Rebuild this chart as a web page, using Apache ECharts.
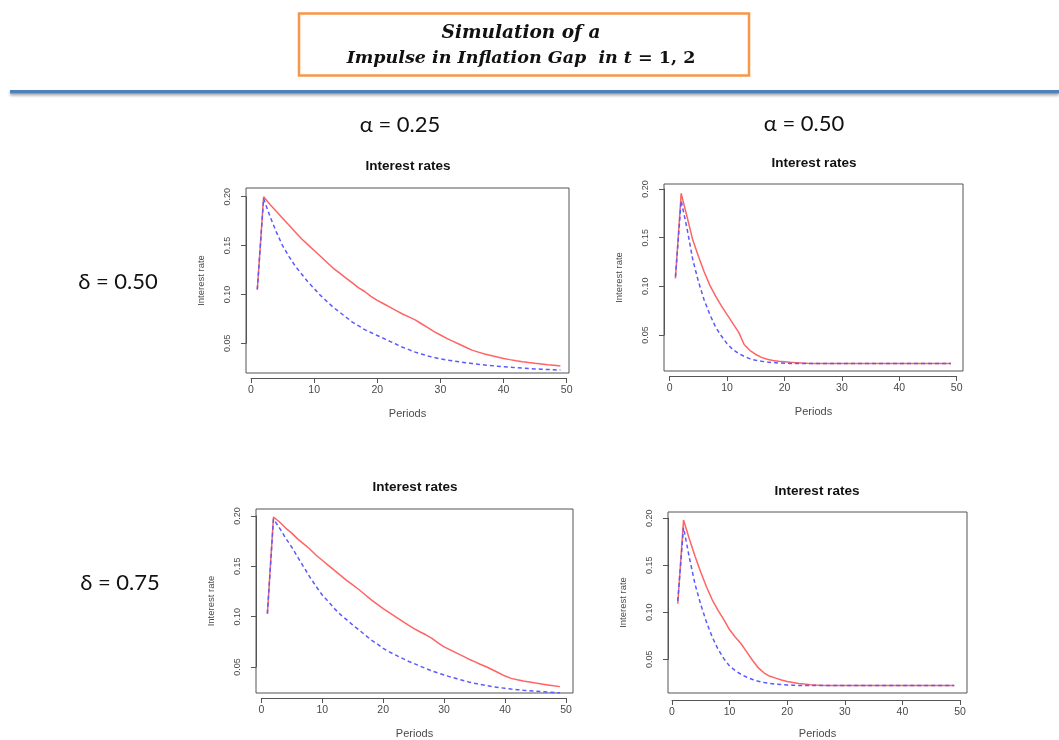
<!DOCTYPE html>
<html>
<head>
<meta charset="utf-8">
<title>Simulation of a Impulse in Inflation Gap</title>
<script src="https://cdn.jsdelivr.net/npm/echarts@6.0.0/dist/echarts.min.js"></script>
<style>
  html, body { margin: 0; padding: 0; background: #fff; }
  #main { width: 1059px; height: 740px; }
</style>
</head>
<body>
<div id="main"></div>
<script>
// periods on the x axis
var periods = [1, 2, 3, 4, 5, 6, 7, 8, 9, 10, 11, 12, 13, 14, 15, 16, 17, 18, 19, 20,
  21, 22, 23, 24, 25, 26, 27, 28, 29, 30, 31, 32, 33, 34, 35, 36, 37, 38, 39, 40,
  41, 42, 43, 44, 45, 46, 47, 48, 49];

var xTicks = [0, 10, 20, 30, 40, 50];
var yTicks = [0.05, 0.10, 0.15, 0.20];

// alpha = 0.25, delta = 0.50
var rateA25D50Solid = [.105, .200, .192, .185, .178, .171, .164, .157, .151, .145,
  .139, .133, .127, .122, .117, .112, .107, .103, .098, .094,
  .0905, .087, .0835, .080, .077, .074, .070, .066, .062, .0585,
  .055, .052, .049, .046, .043, .041, .039, .0375, .036, .0345,
  .0333, .0322, .0312, .0303, .0295, .0288, .0281, .0275, .0268];
var rateA25D50Dash = [.105, .198, .180, .164, .150, .139, .129, .121, .113, .106,
  .099, .093, .087, .082, .077, .072, .068, .064, .061, .058,
  .055, .052, .049, .046, .0435, .041, .039, .037, .0355, .034,
  .0330, .0320, .0311, .0302, .0294, .0286, .0279, .0272, .0266, .0260,
  .0255, .0250, .0246, .0242, .0238, .0235, .0232, .0229, .0226];

// alpha = 0.50, delta = 0.50
var rateA50D50Solid = [.108, .1955, .172, .148, .131, .115, .101, .090, .080, .071,
  .062, .053, .040, .034, .030, .027, .025, .0238, .0230, .0225,
  .0220, .0216, .0212, .0209, .0207, .0207, .0207, .0207, .0207, .0207,
  .0207, .0207, .0207, .0207, .0207, .0207, .0207, .0207, .0207, .0207,
  .0207, .0207, .0207, .0207, .0207, .0207, .0207, .0207, .0207];
var rateA50D50Dash = [.110, .188, .160, .128, .105, .086, .071, .058, .049, .041,
  .035, .031, .028, .0255, .024, .023, .0222, .0217, .0213, .0210,
  .0208, .0207, .0207, .0207, .0207, .0207, .0207, .0207, .0207, .0207,
  .0207, .0207, .0207, .0207, .0207, .0207, .0207, .0207, .0207, .0207,
  .0207, .0207, .0207, .0207, .0207, .0207, .0207, .0207, .0207];

// alpha = 0.25, delta = 0.75
var rateA25D75Solid = [.103, .199, .194, .188, .183, .177, .172, .167, .161, .156,
  .151, .146, .141, .136, .1315, .127, .122, .117, .1125, .108,
  .104, .100, .096, .092, .0884, .085, .082, .0785, .074, .070,
  .067, .064, .061, .058, .0553, .0525, .050, .047, .044, .041,
  .0387, .0373, .036, .035, .034, .0331, .0322, .0313, .0305];
var rateA25D75Dash = [.103, .197, .188, .178, .169, .159, .149, .139, .130, .1215,
  .115, .108, .102, .097, .0917, .087, .082, .077, .073, .0685,
  .065, .062, .059, .056, .0536, .051, .0485, .046, .044, .042,
  .0402, .0385, .0368, .0352, .0338, .0326, .0315, .0305, .0296, .0288,
  .0281, .0275, .0269, .0264, .0259, .0255, .0251, .0247, .0243];

// alpha = 0.50, delta = 0.75
var rateA50D75Solid = [.108, .198, .178, .159, .142, .126, .112, .101, .091, .080,
  .072, .065, .056, .047, .039, .0335, .030, .028, .026, .0245,
  .0233, .0223, .0216, .0210, .0206, .0203, .0202, .0201, .0200, .0200,
  .0200, .0200, .0200, .0200, .0200, .0200, .0200, .0200, .0200, .0200,
  .0200, .0200, .0200, .0200, .0200, .0200, .0200, .0200, .0200];
var rateA50D75Dash = [.111, .190, .158, .129, .107, .088, .072, .059, .049, .041,
  .036, .032, .029, .0265, .0247, .0233, .0223, .0216, .0211, .0207,
  .0204, .0202, .0201, .0200, .0200, .0200, .0200, .0200, .0200, .0200,
  .0200, .0200, .0200, .0200, .0200, .0200, .0200, .0200, .0200, .0200,
  .0200, .0200, .0200, .0200, .0200, .0200, .0200, .0200, .0200];

// pixel layout of each R panel: plot box and where ticks 0/50 and 0.20/0.05 sit
var panels = [
  { solid: rateA25D50Solid, dash: rateA25D50Dash, box: [246, 188, 569, 373], x0: 251, x50: 566.7, y20: 196.7, y05: 343.3, title: [408, 166] },
  { solid: rateA50D50Solid, dash: rateA50D50Dash, box: [664, 184, 963, 371], x0: 669.7, x50: 956.7, y20: 189, y05: 335, title: [814, 163] },
  { solid: rateA25D75Solid, dash: rateA25D75Dash, box: [256, 509, 573, 693], x0: 261.3, x50: 566, y20: 516, y05: 667, title: [415, 487] },
  { solid: rateA50D75Solid, dash: rateA50D75Dash, box: [668, 512, 967, 695], x0: 672, x50: 960, y20: 518.3, y05: 659.3, title: [817, 491] }
];

var axisColor = '#555';
var labelColor = '#4a4a4a';
var fontR = 'Liberation Sans, Arial, sans-serif';

function pairs(vals) {
  var out = [];
  for (var i = 0; i < periods.length; i++) out.push([periods[i], vals[i]]);
  return out;
}

var grids = [], xAxes = [], yAxes = [], series = [], graphics = [];

panels.forEach(function (p, i) {
  var L = p.box[0], T = p.box[1], R = p.box[2], B = p.box[3];
  var xPer = (p.x50 - p.x0) / 50;
  var yPer = (p.y05 - p.y20) / 0.15;
  var gA = i * 2, gB = i * 2 + 1;

  // plot box with the data
  grids.push({ left: L, top: T, width: R - L, height: B - T, show: true,
    borderColor: axisColor, borderWidth: 1, backgroundColor: 'transparent' });
  // R style axes that only span first..last tick
  grids.push({ left: p.x0, top: p.y20, width: p.x50 - p.x0, height: p.y05 - p.y20, show: false });

  xAxes.push({
    gridIndex: gA, type: 'value',
    min: (L - p.x0) / xPer, max: (R - p.x0) / xPer,
    axisLine: { show: false }, axisTick: { show: false }, axisLabel: { show: false }, splitLine: { show: false },
    name: 'Periods', nameLocation: 'middle', nameGap: 35,
    nameTextStyle: { fontFamily: fontR, fontSize: 11, color: labelColor }
  });
  xAxes.push({
    gridIndex: gB, type: 'value', position: 'bottom',
    min: xTicks[0], max: xTicks[xTicks.length - 1], interval: 10,
    offset: B + 5 - p.y05,
    axisLine: { show: true, onZero: false, lineStyle: { color: axisColor, width: 1 } },
    axisTick: { show: true, length: 5, lineStyle: { color: axisColor } },
    axisLabel: { margin: 7, fontFamily: fontR, fontSize: 10.5, color: labelColor },
    splitLine: { show: false }
  });

  yAxes.push({
    gridIndex: gA, type: 'value',
    min: 0.05 - (B - p.y05) / yPer, max: 0.20 + (p.y20 - T) / yPer,
    axisLine: { show: false }, axisTick: { show: false }, axisLabel: { show: false }, splitLine: { show: false },
    name: 'Interest rate', nameLocation: 'middle', nameGap: 40,
    nameTextStyle: { fontFamily: fontR, fontSize: 9.5, color: labelColor }
  });
  yAxes.push({
    gridIndex: gB, type: 'value', position: 'left',
    min: yTicks[0], max: yTicks[yTicks.length - 1], interval: 0.05,
    offset: p.x0 - L,
    axisLine: { show: true, onZero: false, lineStyle: { color: axisColor, width: 1 } },
    axisTick: { show: true, length: 5, lineStyle: { color: axisColor } },
    axisLabel: { margin: 14, rotate: 90, fontFamily: fontR, fontSize: 9, color: labelColor,
      formatter: function (v) { return v.toFixed(2); } },
    splitLine: { show: false }
  });

  series.push({
    type: 'line', xAxisIndex: gA, yAxisIndex: gA, data: pairs(p.solid),
    showSymbol: false, lineStyle: { color: '#ff6464', width: 1.5 }, z: 2
  });
  series.push({
    type: 'line', xAxisIndex: gA, yAxisIndex: gA, data: pairs(p.dash),
    showSymbol: false, lineStyle: { color: '#5a5aff', width: 1.5, type: [4, 3] }, z: 3
  });

  graphics.push({
    type: 'text', x: p.title[0], y: p.title[1],
    style: { text: 'Interest rates', fontFamily: fontR, fontWeight: 'bold', fontSize: 13.5,
      fill: '#111', align: 'center', verticalAlign: 'middle' }
  });
});

// header, rule line and row/column labels
var labelFont = 'Lato, "Open Sans", sans-serif';
graphics.push(
  { type: 'rect', shape: { x: 299, y: 13.5, width: 450, height: 62 },
    style: { fill: '#fff', stroke: '#f79646', lineWidth: 2.5 } },
  { type: 'text', x: 521, y: 33,
    style: { text: 'Simulation of a', fontFamily: 'DejaVu Serif', fontStyle: 'italic', fontWeight: 'bold',
      fontSize: 18.5, fill: '#111', align: 'center', verticalAlign: 'middle' } },
  { type: 'text', x: 521, y: 58,
    style: { text: '{i|Impulse in Inflation Gap  in t }{u|= 1, 2}', align: 'center', verticalAlign: 'middle',
      rich: {
        i: { fontFamily: 'DejaVu Serif', fontStyle: 'italic', fontWeight: 'bold', fontSize: 17.5, fill: '#111' },
        u: { fontFamily: 'DejaVu Serif', fontWeight: 'bold', fontSize: 17.5, fill: '#111' }
      } } },
  { type: 'rect', shape: { x: 10, y: 90, width: 1049, height: 3.5 },
    style: { fill: '#4f81bd', shadowColor: 'rgba(0,0,0,0.35)', shadowBlur: 3, shadowOffsetY: 2 } },
  { type: 'text', x: 400, y: 125,
    style: { text: 'α = 0.25', fontFamily: labelFont, fontSize: 22, fill: '#111', align: 'center', verticalAlign: 'middle' } },
  { type: 'text', x: 804, y: 124,
    style: { text: 'α = 0.50', fontFamily: labelFont, fontSize: 22, fill: '#111', align: 'center', verticalAlign: 'middle' } },
  { type: 'text', x: 118, y: 282,
    style: { text: 'δ = 0.50', fontFamily: labelFont, fontSize: 22, fill: '#111', align: 'center', verticalAlign: 'middle' } },
  { type: 'text', x: 120, y: 583,
    style: { text: 'δ = 0.75', fontFamily: labelFont, fontSize: 22, fill: '#111', align: 'center', verticalAlign: 'middle' } }
);

var chart = echarts.init(document.getElementById('main'), null, { renderer: 'canvas' });
chart.setOption({
  backgroundColor: '#fff',
  animation: false,
  grid: grids,
  xAxis: xAxes,
  yAxis: yAxes,
  series: series,
  graphic: graphics
});
</script>
</body>
</html>
